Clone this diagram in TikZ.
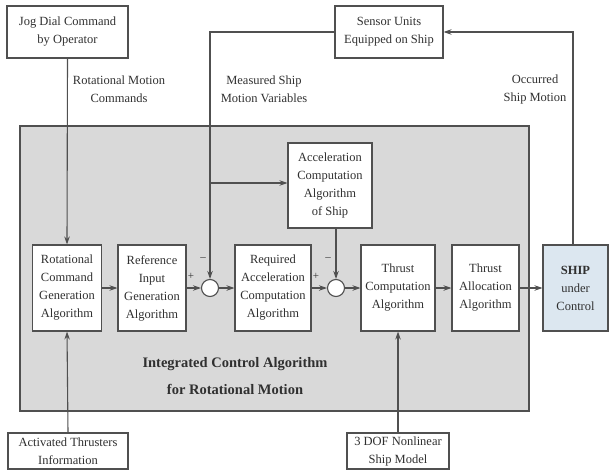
\documentclass[tikz,border=0pt]{standalone}
\usepackage{fontspec}
\setmainfont{Liberation Serif}
\usetikzlibrary{arrows.meta}
\definecolor{ln}{HTML}{505050}
\definecolor{grayfill}{HTML}{D9D9D9}
\definecolor{shipfill}{HTML}{DCE7F0}
\definecolor{txt}{HTML}{303030}
\begin{document}
\begin{tikzpicture}[x=1pt,y=-1pt,
  every node/.style={text=txt},
  blk/.style={draw=ln, line width=1.1pt, fill=white, align=center, inner sep=1pt,
    font=\fontsize{12.5}{18}\selectfont},
  sumc/.style={draw=ln, line width=1.1pt, fill=white, circle, minimum size=17pt, inner sep=0pt},
  lbl/.style={align=center, font=\fontsize{12.5}{18}\selectfont},
  sgn/.style={font=\fontsize{11}{12}\selectfont, inner sep=0pt},
  conn/.style={draw=ln, line width=1.1pt},
  arr/.style={conn, -{Stealth[length=8pt,width=5.5pt]}}]
\useasboundingbox (0,0) rectangle (609,470);
% gray background
\node[draw=ln, line width=1.1pt, fill=grayfill, minimum width=509pt, minimum height=285pt, inner sep=0pt] (grp) at (274.5,268.5) {};
% blocks
\node[blk, minimum width=121pt, minimum height=52pt] (jog) at (67.5,32) {Jog Dial Command\\by Operator};
\node[blk, minimum width=108pt, minimum height=52pt] (sen) at (389,32) {Sensor Units\\Equipped on Ship};
\node[blk, minimum width=84pt, minimum height=85pt] (acc) at (330,185.5) {Acceleration\\Computation\\Algorithm\\of Ship};
\node[blk, minimum width=69pt, minimum height=86pt] (rot) at (67,288) {Rotational\\Command\\Generation\\Algorithm};
\node[blk, minimum width=68pt, minimum height=86pt] (ref) at (152,288) {Reference\\Input\\Generation\\Algorithm};
\node[sumc] (s1) at (210,288) {};
\node[blk, minimum width=76pt, minimum height=86pt] (req) at (273,288) {Required\\Acceleration\\Computation\\Algorithm};
\node[sumc] (s2) at (336,288) {};
\node[blk, minimum width=74pt, minimum height=86pt] (tc) at (398,288) {Thrust\\Computation\\Algorithm};
\node[blk, minimum width=67pt, minimum height=86pt] (ta) at (485.5,288) {Thrust\\Allocation\\Algorithm};
\node[blk, fill=shipfill, minimum width=65pt, minimum height=86pt] (ship) at (575.5,288) {\textbf{SHIP}\\under\\Control};
\node[blk, minimum width=120pt, minimum height=36pt] (act) at (68,451) {Activated Thrusters\\Information};
\node[blk, minimum width=102pt, minimum height=36pt] (dof) at (398,451) {3 DOF Nonlinear\\Ship Model};
% labels
\node[lbl] (l1) at (119,89) {Rotational Motion\\Commands};
\node[lbl] (l2) at (264,89) {Measured Ship\\Motion Variables};
\node[lbl] (l3) at (535,89) {Occurred\\Ship Motion};
\node[align=center, font=\fontsize{14.5}{27}\selectfont\bfseries] (ttl) at (235,376.5) {Integrated Control Algorithm\\for Rotational Motion};
% signs
\node[sgn] (p1) at (191,276) {+};
\node[sgn] (m1) at (203,259) {--};
\node[sgn] (p2) at (316,276) {+};
\node[sgn] (m2) at (328,259) {--};
% connectors
\coordinate (cs) at (573,32);
\coordinate (cm) at (210,32);
\coordinate (cb) at (210,183);
\draw[arr] (jog.south) -- (rot.north);
\draw[arr] (act.north) -- (rot.south);
\draw[arr] (rot) -- (ref);
\draw[arr] (ref) -- (s1);
\draw[arr] (s1) -- (req);
\draw[arr] (req) -- (s2);
\draw[arr] (s2) -- (tc);
\draw[arr] (tc) -- (ta);
\draw[arr] (ta) -- (ship);
\draw[arr] (s2.north |- acc.south) -- (s2.north);
\draw[arr] (dof.north) -- (tc.south);
\draw[arr] (ship.north -| cs) -- (cs) -- (sen.east);
\draw[arr] (sen.west) -- (cm) -- (s1.north);
\draw[arr] (cb) -- (cb -| acc.west);
\end{tikzpicture}
\end{document}
